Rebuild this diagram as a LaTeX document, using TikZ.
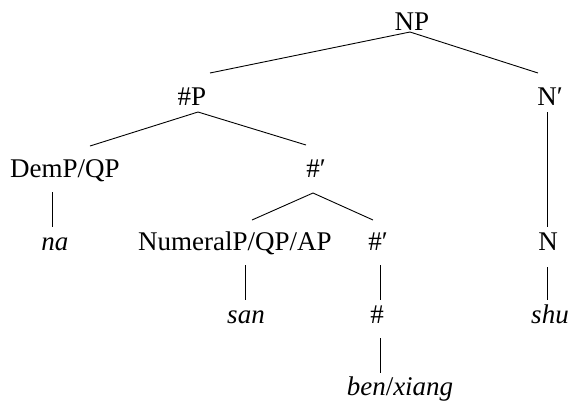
\documentclass[tikz,border=0pt]{standalone}
\usepackage{fontspec}
\setmainfont{Liberation Serif}
\usetikzlibrary{calc}
\begin{document}
\begin{tikzpicture}[x=1pt,y=-1pt,
  lbl/.style={anchor=base,inner sep=0pt,font=\fontsize{27}{32}\selectfont},
  branch/.style={line width=0.9pt,black}]
\useasboundingbox (0,0) rectangle (571,405);
% nodes
\node[lbl] (NP)  at (412,30)  {NP};
\node[lbl] (hP)  at (192,105) {\#P};
\node[lbl] (Nb)  at (550,105) {N′};
\node[lbl] (Dem) at (65,177)  {DemP/QP};
\node[lbl] (hb)  at (316,177) {\#′};
\node[lbl] (na)  at (55,250)  {\textit{na}};
\node[lbl] (Num) at (235,250) {NumeralP/QP/AP};
\node[lbl] (hb2) at (378,250) {\#′};
\node[lbl] (N)   at (548,250) {N};
\node[lbl] (san) at (246,323) {\textit{san}};
\node[lbl] (h)   at (377,323) {\#};
\node[lbl] (shu) at (550,323) {\textit{shu}};
\node[lbl] (ben) at (400,395) {\textit{ben}/\textit{xiang}};
% connectors
\draw[branch] ($(NP.base)+(-2pt,-2pt)$) -- ($(hP.base)+(18pt,32pt)$);
\draw[branch] ($(NP.base)+(-2pt,-2pt)$) -- ($(Nb.base)+(-12pt,32pt)$);
\draw[branch] ($(hP.base)+(6pt,-7pt)$) -- ($(Dem.base)+(25pt,31pt)$);
\draw[branch] ($(hP.base)+(6pt,-7pt)$) -- ($(hb.base)+(-10pt,32pt)$);
\draw[branch] ($(Nb.base)+(-3pt,-7pt)$) -- ($(N.base)+(-1pt,23pt)$);
\draw[branch] ($(Dem.base)+(-13pt,-15pt)$) -- ($(na.base)+(-3pt,23pt)$);
\draw[branch] ($(hb.base)+(-3pt,-16pt)$) -- ($(Num.base)+(17pt,30pt)$);
\draw[branch] ($(hb.base)+(-3pt,-16pt)$) -- ($(hb2.base)+(-5pt,30pt)$);
\draw[branch] ($(Num.base)+(10pt,-15pt)$) -- ($(san.base)+(-1pt,23pt)$);
\draw[branch] ($(hb2.base)+(2pt,-15pt)$) -- ($(h.base)+(3pt,23pt)$);
\draw[branch] ($(N.base)+(-1pt,-17pt)$) -- ($(shu.base)+(-3pt,23pt)$);
\draw[branch] ($(h.base)+(3pt,-15pt)$) -- ($(ben.base)+(-20pt,22pt)$);
\end{tikzpicture}
\end{document}
